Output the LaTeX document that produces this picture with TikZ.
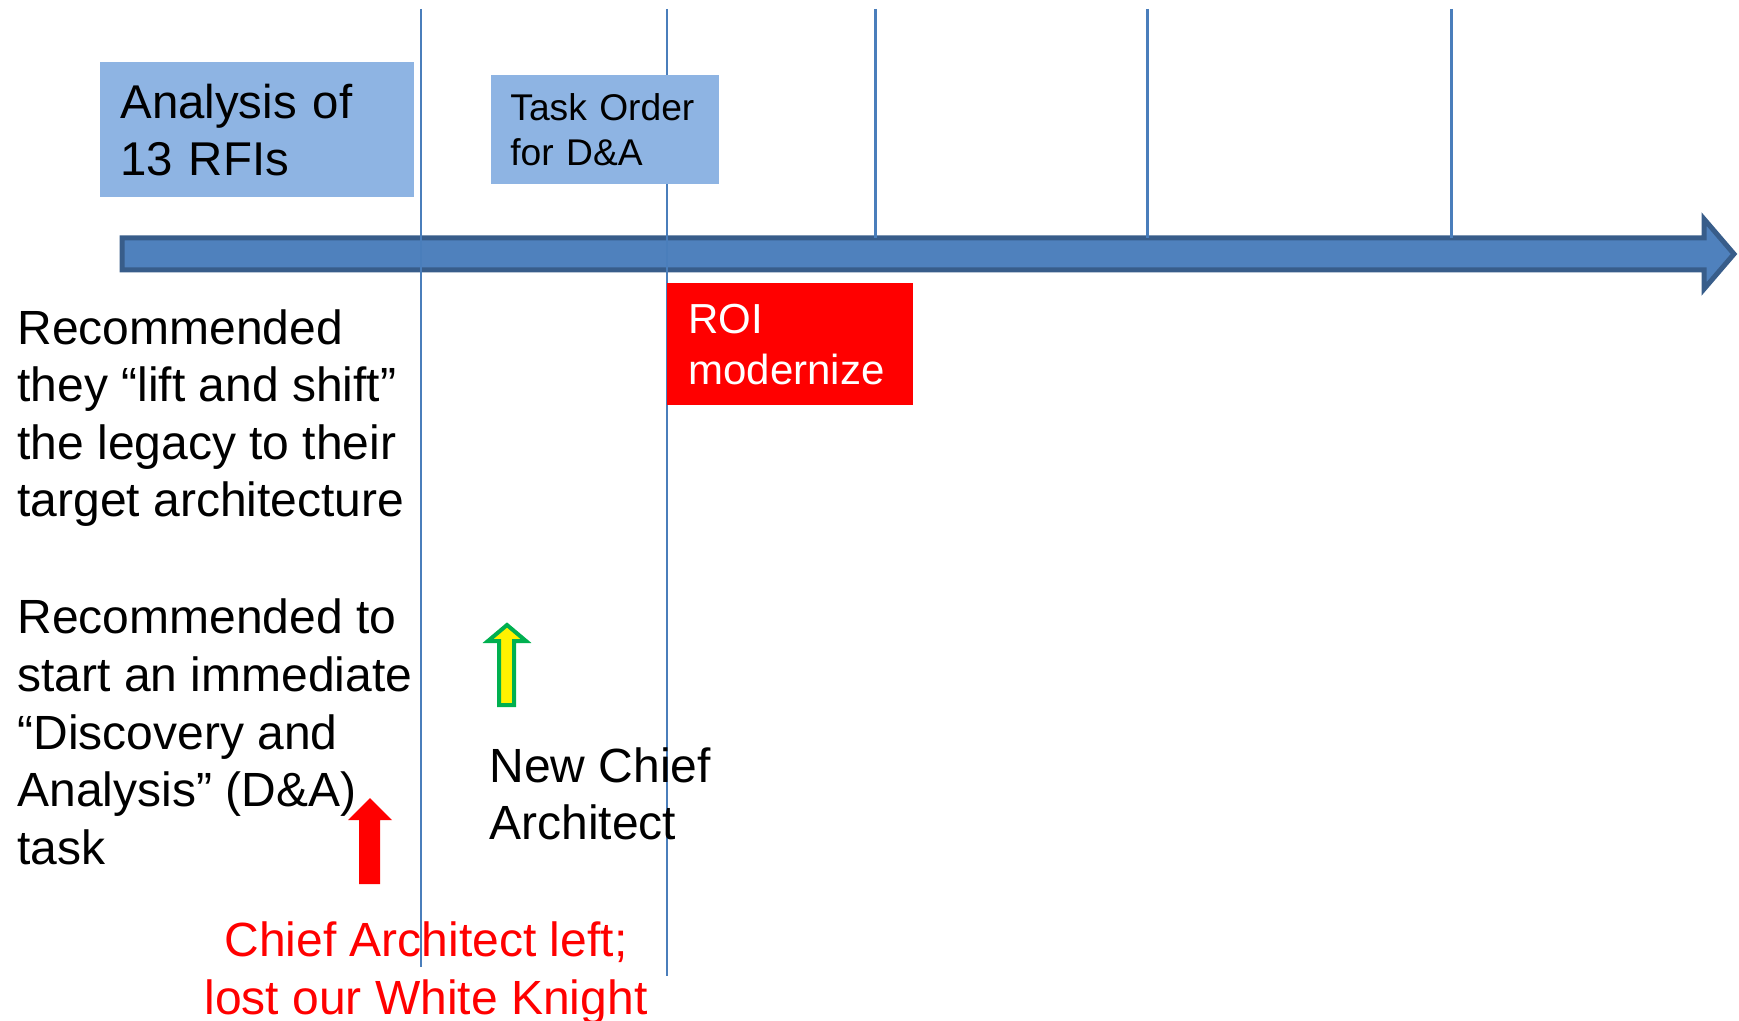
\documentclass[tikz,border=0pt]{standalone}
\usepackage{fontspec}
\setmainfont{Liberation Sans}
\usetikzlibrary{positioning}
\definecolor{tlblue}{RGB}{79,129,189}
\definecolor{tledge}{RGB}{56,93,138}
\definecolor{boxblue}{RGB}{142,180,227}
\definecolor{tickblue}{RGB}{74,126,187}
\definecolor{okgreen}{RGB}{0,176,80}

\begin{document}
\begin{tikzpicture}[x=0.5pt, y=-0.5pt,
  phase/.style={anchor=north west, align=left, inner ysep=0pt},
  note/.style={anchor=west, align=left, inner sep=0pt, font=\fontsize{24}{28.8}\selectfont}]
\useasboundingbox (0,0) rectangle (1739,1021);
% Timeline
\draw[fill=tlblue, draw=tledge, line width=2.5pt] (122,238) -- (1704,238) -- (1704,219) -- (1734,254)
  -- (1704,289) -- (1704,270) -- (122,270) -- cycle;
% Milestone ticks
\foreach \x/\yend/\w in {421/967/1pt, 667/976/1pt, 875/238/1.5pt, 1147/238/1.5pt, 1451/238/1.5pt}
  \draw[tickblue, line width=\w] (\x,9) -- (\x,\yend);
% Phase boxes
\node[phase, fill=boxblue, minimum width=157pt, minimum height=67.5pt, text width=137pt, inner xsep=10pt,
  font=\fontsize{23.7}{28.8}\selectfont] (rfis) at (100,62) {Analysis of\\13 RFIs};
\node[phase, fill=boxblue, minimum width=114pt, minimum height=54.5pt, text width=95pt, inner xsep=9.5pt,
  font=\fontsize{18.6}{22.2}\selectfont] (taskorder) at (491,75) {Task Order\\for D\&A};
\node[phase, fill=red, text=white, minimum width=123pt, minimum height=61pt, text width=102pt, inner xsep=10.5pt,
  font=\fontsize{21}{25.5}\selectfont] (roi) at (667,283) {ROI\\modernize};
% Notes
\node[note] (liftshift) at (17,418) {Recommended\\they “lift and shift”\\the legacy to their\\target architecture};
\node[note] (discovery) at (17,732) {Recommended to\\start an immediate\\“Discovery and\\Analysis” (D\&A)\\task};
\node[note] (newchief) at (489,794) {New Chief\\Architect};
\node[note, red, anchor=center, align=center] (chiefleft) at (426,973) {Chief Architect left;\\lost our White Knight};
% Event arrows
\fill[red] (370,798) -- (392,820) -- (380,820) -- (380,884) -- (359,884) -- (359,820) -- (348,820) -- cycle;
\draw[fill=yellow, draw=okgreen, line width=2pt] (507,625) -- (526,641) -- (514,641) -- (514,705)
  -- (499,705) -- (499,641) -- (488,641) -- cycle;
\end{tikzpicture}
\end{document}
